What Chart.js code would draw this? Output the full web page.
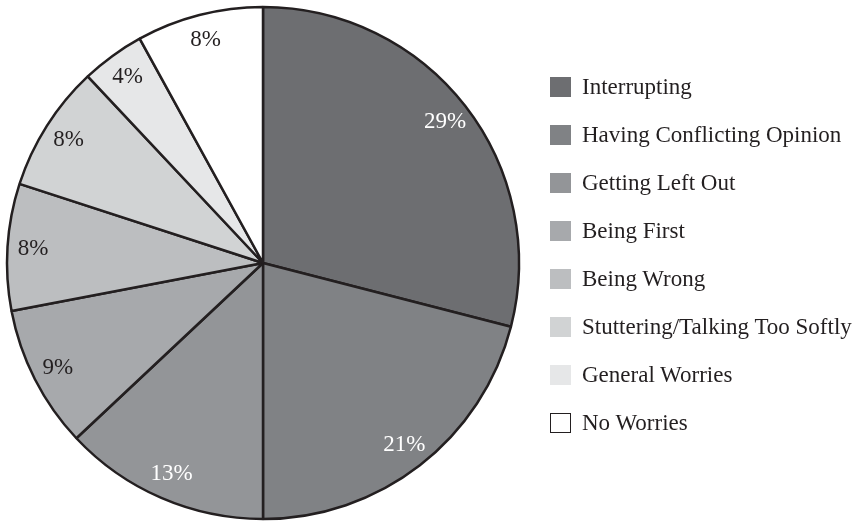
<!DOCTYPE html>
<html>
<head>
<meta charset="utf-8">
<script src="https://cdn.jsdelivr.net/npm/chart.js@4"></script>
<style>
  html, body { margin: 0; padding: 0; background: #fff; }
  #wrap { position: relative; width: 864px; height: 523px; overflow: hidden; }
  #chart { position: absolute; left: 0; top: 0; }
  #legend { position: absolute; left: 550px; top: 0; font-family: "Liberation Serif", "DejaVu Serif", serif; font-size: 23px; color: #231f20; }
  .item { position: absolute; left: 0; white-space: nowrap; display: flex; align-items: center; }
  .box { width: 21px; height: 20px; box-sizing: border-box; margin-right: 11px; }
</style>
</head>
<body>
<div id="wrap">
  <canvas id="chart" width="864" height="523"></canvas>
  <div id="legend"></div>
</div>
<script>
const categories = ["Interrupting", "Having Conflicting Opinion", "Getting Left Out", "Being First", "Being Wrong", "Stuttering/Talking Too Softly", "General Worries", "No Worries"];
const values = [29, 21, 13, 9, 8, 8, 4, 8];
const labels = ["29%", "21%", "13%", "9%", "8%", "8%", "4%", "8%"];
const colors = ["#6d6e71", "#808285", "#939598", "#a7a9ac", "#bcbec0", "#d1d3d4", "#e6e7e8", "#ffffff"];
const labelColors = ["#ffffff", "#ffffff", "#ffffff", "#231f20", "#231f20", "#231f20", "#231f20", "#231f20"];

const labelPlugin = {
  id: 'sliceLabels',
  afterDatasetsDraw(chart) {
    const ctx = chart.ctx;
    const meta = chart.getDatasetMeta(0);
    ctx.save();
    ctx.font = '23px "Liberation Serif", "DejaVu Serif", serif';
    ctx.textAlign = 'center';
    ctx.textBaseline = 'middle';
    meta.data.forEach((arc, i) => {
      const p = arc.getProps(['x', 'y', 'startAngle', 'endAngle', 'outerRadius'], true);
      const mid = (p.startAngle + p.endAngle) / 2;
      const r = p.outerRadius * 0.9;
      ctx.fillStyle = labelColors[i];
      ctx.fillText(labels[i], p.x + Math.cos(mid) * r, p.y + Math.sin(mid) * r);
    });
    ctx.restore();
  }
};

new Chart(document.getElementById('chart'), {
  type: 'pie',
  data: {
    labels: categories,
    datasets: [{
      data: values,
      backgroundColor: colors,
      borderColor: '#231f20',
      borderWidth: 2.5,
      radius: 256
    }]
  },
  options: {
    responsive: false,
    animation: false,
    layout: { padding: { left: 0, right: 338, top: 3, bottom: 0 } },
    plugins: { legend: { display: false }, tooltip: { enabled: false } }
  },
  plugins: [labelPlugin]
});

const legend = document.getElementById('legend');
categories.forEach((c, i) => {
  const item = document.createElement('div');
  item.className = 'item';
  item.style.top = (87 + i * 48 - 14) + 'px';
  item.style.height = '28px';
  const box = document.createElement('div');
  box.className = 'box';
  box.style.background = colors[i];
  if (colors[i] === '#ffffff') box.style.border = '1.5px solid #231f20';
  const t = document.createElement('span');
  t.textContent = c;
  item.appendChild(box);
  item.appendChild(t);
  legend.appendChild(item);
});
</script>
</body>
</html>
